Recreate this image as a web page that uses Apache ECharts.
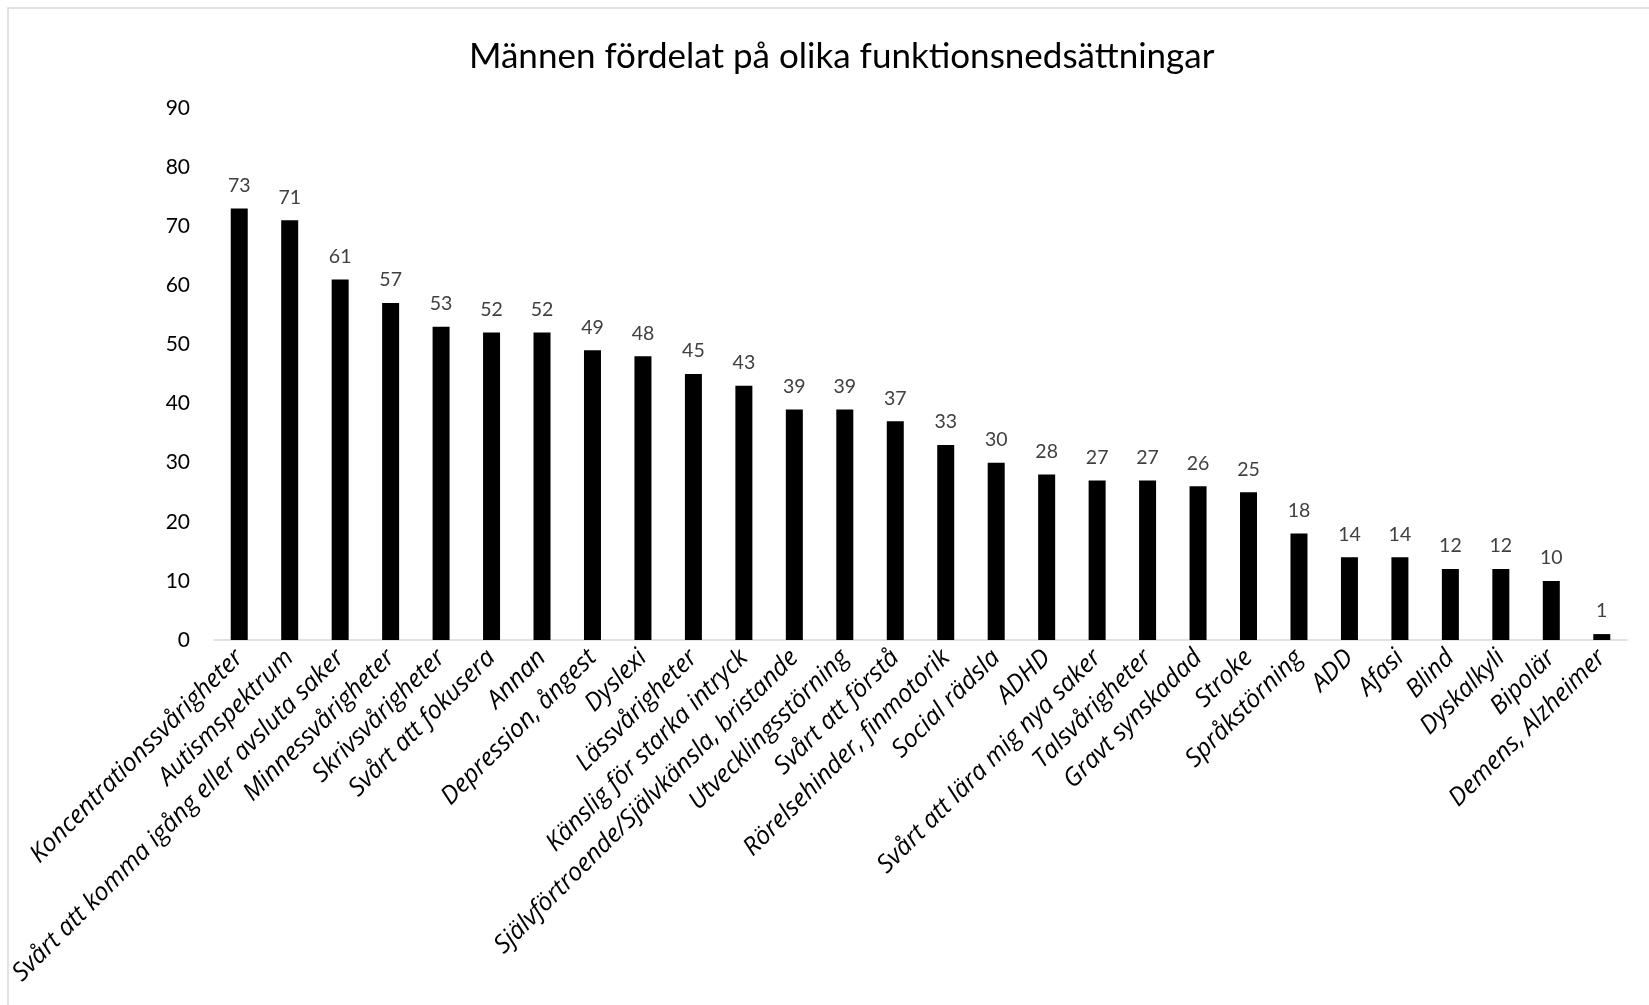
<!DOCTYPE html>
<html>
<head>
<meta charset="utf-8">
<title>Männen fördelat på olika funktionsnedsättningar</title>
<script src="https://cdn.jsdelivr.net/npm/echarts@6/dist/echarts.min.js"></script>
<style>
  html, body { margin: 0; padding: 0; background: #fff; }
  #chart { width: 1649px; height: 1005px; }
</style>
</head>
<body>
<div id="chart"></div>
<script>
var categories = [
  'Koncentrationssvårigheter', 'Autismspektrum', 'Svårt att komma igång eller avsluta saker',
  'Minnessvårigheter', 'Skrivsvårigheter', 'Svårt att fokusera', 'Annan', 'Depression, ångest',
  'Dyslexi', 'Lässvårigheter', 'Känslig för starka intryck', 'Självförtroende/Självkänsla, bristande',
  'Utvecklingsstörning', 'Svårt att förstå', 'Rörelsehinder, finmotorik', 'Social rädsla', 'ADHD',
  'Svårt att lära mig nya saker', 'Talsvårigheter', 'Gravt synskadad', 'Stroke', 'Språkstörning',
  'ADD', 'Afasi', 'Blind', 'Dyskalkyli', 'Bipolär', 'Demens, Alzheimer'
];
var values = [73, 71, 61, 57, 53, 52, 52, 49, 48, 45, 43, 39, 39, 37, 33, 30, 28, 27, 27, 26, 25, 18, 14, 14, 12, 12, 10, 1];
var yMin = 0, yMax = 90, yStep = 10;

var font = 'Lato, sans-serif';
var chart = echarts.init(document.getElementById('chart'));

chart.setOption({
  backgroundColor: '#fff',
  animation: false,
  title: {
    text: 'Männen fördelat på olika funktionsnedsättningar',
    left: 464,
    top: 34,
    textStyle: { fontFamily: font, fontSize: 35, fontWeight: 'normal', color: '#000' }
  },
  graphic: [{
    type: 'rect',
    shape: { x: 8, y: 8, width: 1700, height: 1100 },
    style: { fill: 'none', stroke: '#d9d9d9', lineWidth: 1.5 },
    silent: true
  }],
  grid: { left: 214, right: 22, top: 108, bottom: 365 },
  xAxis: {
    type: 'category',
    data: categories,
    axisLine: { lineStyle: { color: '#d9d9d9', width: 1.5 } },
    axisTick: { show: false },
    axisLabel: {
      interval: 0,
      rotate: 45,
      margin: 14,
      fontFamily: '"Open Sans", sans-serif',
      fontStyle: 'italic',
      fontSize: 25,
      color: '#000'
    }
  },
  yAxis: {
    type: 'value',
    min: yMin,
    max: yMax,
    interval: yStep,
    splitLine: { show: false },
    axisLine: { show: false },
    axisTick: { show: false },
    axisLabel: { margin: 24, fontFamily: font, fontSize: 21, color: '#000' }
  },
  series: [{
    type: 'bar',
    data: values,
    barWidth: 17,
    itemStyle: { color: '#000' },
    label: {
      show: true,
      position: 'top',
      distance: 13,
      fontFamily: font,
      fontSize: 19.5,
      color: '#404040'
    }
  }]
});
</script>
</body>
</html>
